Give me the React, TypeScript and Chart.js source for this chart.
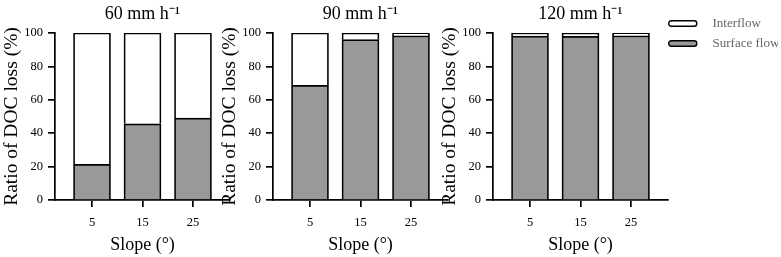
import React, { useEffect, useRef } from 'react';
import { Chart, registerables } from 'chart.js';

Chart.register(...registerables);

// ---------- data ----------
const categories = ['5', '15', '25'];
const panelTitles = ['60 mm h⁻¹', '90 mm h⁻¹', '120 mm h⁻¹'];
const seriesNames = ['Surface flow', 'Interflow'];
const yTicks = [0, 20, 40, 60, 80, 100];

const surface60 = [21.4, 45.6, 49.0];
const interflow60 = [78.6, 54.4, 51.0];
const surface90 = [68.6, 96.0, 98.3];
const interflow90 = [31.4, 4.0, 1.7];
const surface120 = [98.2, 98.0, 98.3];
const interflow120 = [1.8, 2.0, 1.7];

const yTitle = 'Ratio of DOC loss (%)';
const xTitle = 'Slope (°)';

// ---------- style ----------
const FONT = "'Liberation Serif', 'Times New Roman', serif";
const GRAY = '#999999';
const LINE_W = 1.7;

function makeSwatch(fill: string) {
  const c = document.createElement('canvas');
  c.width = 45;
  c.height = 7;
  const g = c.getContext('2d')!;
  g.fillStyle = fill;
  g.strokeStyle = '#000';
  g.lineWidth = 1.4;
  g.beginPath();
  (g as any).roundRect(0.75, 0.75, 28, 5.5, 2.5);
  g.fill();
  g.stroke();
  return c;
}

type PanelProps = {
  left: number;
  width: number;
  title: string;
  surface: number[];
  interflow: number[];
  legend: boolean;
};

function Panel({ left, width, title, surface, interflow, legend }: PanelProps) {
  const ref = useRef<HTMLCanvasElement>(null);
  useEffect(() => {
    Chart.defaults.font.family = FONT;
    const swatches = [makeSwatch(GRAY), makeSwatch('#ffffff')];
    const chart = new Chart(ref.current!, {
      type: 'bar',
      data: {
        datasets: [
          {
            label: seriesNames[0],
            data: categories.map((_, i) => ({ x: i, y: surface[i] })),
            backgroundColor: GRAY,
            borderColor: '#000',
            borderWidth: LINE_W,
            barThickness: 37,
          },
          {
            label: seriesNames[1],
            data: categories.map((_, i) => ({ x: i, y: interflow[i] })),
            backgroundColor: '#ffffff',
            borderColor: '#000',
            borderWidth: LINE_W,
            barThickness: 37,
          },
        ],
      } as any,
      options: {
        responsive: false,
        animation: false,
        devicePixelRatio: 1,
        events: [],
        layout: { padding: { left: 0, right: legend ? 0 : 10, top: 0, bottom: 0 } },
        plugins: {
          tooltip: { enabled: false },
          title: {
            display: true,
            text: title,
            fullSize: false,
            color: '#000',
            font: { family: FONT, size: 18, weight: 'normal' },
            padding: { top: 3, bottom: 8.4 },
          },
          legend: legend
            ? {
                display: true,
                position: 'right',
                align: 'start',
                reverse: true,
                maxWidth: 110,
                title: { display: true, text: '', font: { size: 10, lineHeight: 1 }, padding: 0 },
                labels: {
                  usePointStyle: true,
                  pointStyleWidth: 31,
                  boxHeight: 7,
                  padding: 7,
                  color: '#000',
                  font: { family: FONT, size: 13 },
                  generateLabels: (ch: any) =>
                    ch.data.datasets.map((ds: any, i: number) => ({
                      text: ds.label,
                      pointStyle: swatches[i],
                      fillStyle: ds.backgroundColor,
                      strokeStyle: '#000',
                      lineWidth: 0,
                      hidden: false,
                      datasetIndex: i,
                    })),
                },
              }
            : { display: false },
        },
        scales: {
          x: {
            type: 'linear',
            stacked: true,
            offset: false,
            min: -0.733,
            max: 2.733,
            afterBuildTicks: (s: any) => {
              s.ticks = categories.map((_, i) => ({ value: i }));
            },
            afterFit: (s: any) => {
              s.height = 57;
            },
            ticks: {
              callback: (v: any) => categories[v] ?? '',
              color: '#000',
              font: { family: FONT, size: 12.5 },
              padding: 8,
              maxRotation: 0,
              autoSkip: false,
            },
            grid: {
              display: true,
              offset: false,
              drawOnChartArea: false,
              drawTicks: true,
              tickLength: 7,
              color: '#000',
              lineWidth: LINE_W,
            },
            border: { display: true, color: '#000', width: LINE_W },
            title: {
              display: true,
              text: xTitle,
              color: '#000',
              font: { family: FONT, size: 18 },
              padding: { top: 0, bottom: 1 },
            },
          },
          y: {
            stacked: true,
            min: 0,
            max: 100,
            afterBuildTicks: (s: any) => {
              s.ticks = yTicks.map((v) => ({ value: v }));
            },
            afterFit: (s: any) => {
              s.width = 55;
            },
            ticks: {
              color: '#000',
              font: { family: FONT, size: 12.5 },
              padding: 5,
            },
            grid: {
              display: true,
              drawOnChartArea: false,
              drawTicks: true,
              tickLength: 7,
              color: '#000',
              lineWidth: LINE_W,
            },
            border: { display: true, color: '#000', width: LINE_W },
            title: {
              display: true,
              text: yTitle,
              color: '#000',
              font: { family: FONT, size: 19.5 },
              padding: { top: 0, bottom: 0 },
            },
          },
        },
      } as any,
    });
    return () => chart.destroy();
  }, []);
  return (
    <canvas
      ref={ref}
      width={width}
      height={257}
      style={{ position: 'absolute', left, top: 0, width, height: 257 }}
    />
  );
}

export default function App() {
  return (
    <div
      style={{
        position: 'fixed',
        left: 0,
        top: 0,
        width: 781,
        height: 257,
        background: '#fff',
        overflow: 'hidden',
      }}
    >
      <Panel left={0} width={240} title={panelTitles[0]} surface={surface60} interflow={interflow60} legend={false} />
      <Panel left={218} width={240} title={panelTitles[1]} surface={surface90} interflow={interflow90} legend={false} />
      <Panel left={438} width={340} title={panelTitles[2]} surface={surface120} interflow={interflow120} legend={true} />
    </div>
  );
}
